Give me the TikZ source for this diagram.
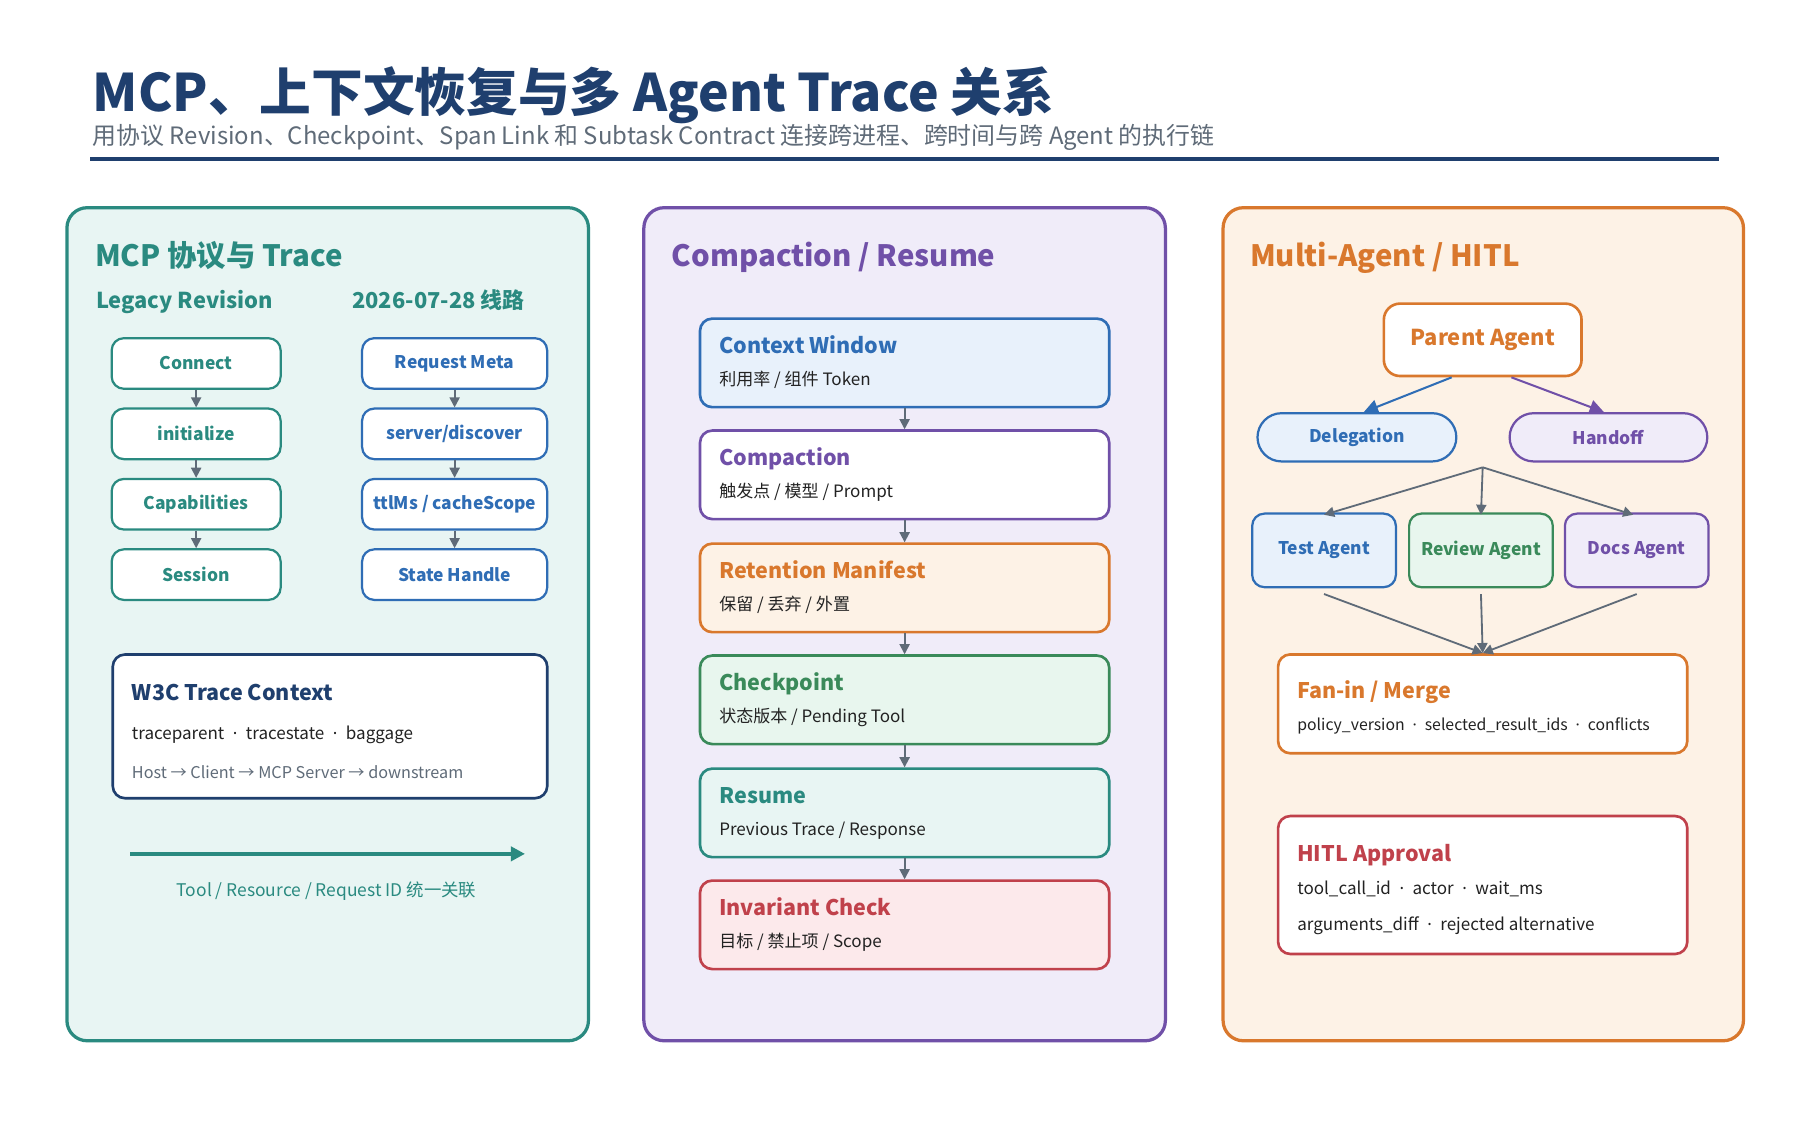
\documentclass[tikz,border=0pt]{standalone}
\usepackage{fontspec}
\setmainfont{Noto Sans CJK SC}
\newfontfamily\latin{Noto Sans}
\newcommand\md{{\latin\enspace·\enspace}}
\usetikzlibrary{arrows.meta}
\definecolor{navy}{HTML}{1F3F6E}
\definecolor{teal}{HTML}{2A8A80}
\definecolor{tealbg}{HTML}{E8F5F3}
\definecolor{blu}{HTML}{2F6DB5}
\definecolor{blubg}{HTML}{E8F1FB}
\definecolor{purp}{HTML}{7050A8}
\definecolor{purpbg}{HTML}{F0ECF9}
\definecolor{orng}{HTML}{D9782D}
\definecolor{orngbg}{HTML}{FDF2E6}
\definecolor{grn}{HTML}{3A8A5A}
\definecolor{grnbg}{HTML}{E8F6EE}
\definecolor{rd}{HTML}{C0414B}
\definecolor{rdbg}{HTML}{FCE9EB}
\definecolor{arr}{HTML}{5F6B78}
\definecolor{txt}{HTML}{222222}
\newlength\pxu
\setlength\pxu{0.567pt}
\tikzset{
  panel/.style={draw=#1,line width=1.6pt,rounded corners=10pt},
  step/.style={draw=#1,line width=1.1pt,rounded corners=6pt,fill=white,inner sep=1pt,
    minimum width=147\pxu,minimum height=44\pxu,font=\fontsize{8.6}{10}\selectfont\bfseries,text=#1},
  card/.style={draw=#1,line width=1.3pt,rounded corners=6pt,minimum width=356\pxu,minimum height=77\pxu},
  cardtitle/.style={anchor=base west,font=\fontsize{10.6}{12}\selectfont\bfseries,text=#1},
  cardtext/.style={anchor=base west,font=\fontsize{8.4}{10}\selectfont,text=txt},
  ptitle/.style={anchor=base west,font=\fontsize{14.5}{16}\selectfont\bfseries,text=#1,inner sep=0},
  flow/.style={-{Triangle[length=5pt,width=5pt]},draw=arr,line width=0.9pt},
}
\begin{document}
\begin{tikzpicture}[x=0.02cm,y=-0.02cm]
\useasboundingbox (0,0) rectangle (1560,975);
\fill[white] (0,0) rectangle (1560,975);

% title
\node[anchor=base west,font=\fontsize{25.5}{28}\selectfont\bfseries,text=navy,inner sep=0] (title) at (80,97) {MCP、上下文恢复与多 Agent Trace 关系};
\node[anchor=base west,font=\fontsize{11.8}{14}\selectfont,text=arr,inner sep=0] (subtitle) at (80,125) {用协议 Revision、Checkpoint、Span Link 和 Subtask Contract 连接跨进程、跨时间与跨 Agent 的执行链};
\draw[navy,line width=2pt] (78,138) -- (1490,138);

% panels
\filldraw[panel=teal,fill=tealbg] (58,180) rectangle (510,902);
\filldraw[panel=purp,fill=purpbg] (558,180) rectangle (1010,902);
\filldraw[panel=orng,fill=orngbg] (1060,180) rectangle (1511,902);

% left panel
\node[ptitle=teal] (ptA) at (82,231) {MCP 协议与 Trace};
\node[anchor=base west,font=\fontsize{10.8}{13}\selectfont\bfseries,text=teal,inner sep=0] (legacy) at (83,267) {Legacy Revision};
\node[anchor=base west,font=\fontsize{10.8}{13}\selectfont\bfseries,text=teal,inner sep=0] (newrev) at (305,267) {2026-07-28 线路};

\node[step=teal] (l1) at (170,315) {Connect};
\node[step=teal] (l2) at (170,376) {initialize};
\node[step=teal] (l3) at (170,437) {Capabilities};
\node[step=teal] (l4) at (170,498) {Session};
\node[step=blu,minimum width=161\pxu] (r1) at (394,315) {Request Meta};
\node[step=blu,minimum width=161\pxu] (r2) at (394,376) {server/discover};
\node[step=blu,minimum width=161\pxu] (r3) at (394,437) {ttlMs / cacheScope};
\node[step=blu,minimum width=161\pxu] (r4) at (394,498) {State Handle};
\foreach \a/\b in {l1/l2,l2/l3,l3/l4,r1/r2,r2/r3,r3/r4}
  \draw[flow] (\a.south) -- (\b.north);

\node[draw=navy,line width=1.3pt,rounded corners=6pt,fill=white,minimum width=378\pxu,minimum height=125\pxu] (w3c) at (286,629.5) {};
\node[cardtitle=navy,inner sep=0] (w3ct) at (114,607) {W3C Trace Context};
\node[cardtext,inner sep=0] (w3c1) at (114,641) {traceparent\md tracestate\md baggage};
\node[cardtext,inner sep=0,text=arr,font=\fontsize{8}{10}\selectfont] (w3c2) at (114,675) {Host → Client → MCP Server → downstream};

\coordinate (ta) at (113,740);
\coordinate (tb) at (455,740);
\draw[teal,line width=2.2pt,-{Triangle[length=7pt,width=7pt]}] (ta) -- (tb);
\node[font=\fontsize{8.6}{10}\selectfont,text=teal] (tlab) at (283,772) {Tool / Resource / Request ID 统一关联};

% middle panel
\node[ptitle=purp] (ptB) at (582,231) {Compaction / Resume};
\foreach \n/\y/\c/\f/\t/\s in {
  c1/314.5/blu/blubg/Context Window/{利用率 / 组件 Token},
  c2/411.5/purp/white/Compaction/{触发点 / 模型 / Prompt},
  c3/509.5/orng/orngbg/Retention Manifest/{保留 / 丢弃 / 外置},
  c4/606.5/grn/grnbg/Checkpoint/{状态版本 / Pending Tool},
  c5/704.5/teal/tealbg/Resume/{Previous Trace / Response},
  c6/801.5/rd/rdbg/Invariant Check/{目标 / 禁止项 / Scope}}{
  \node[card=\c,fill=\f] (\n) at (784,\y) {};
  \node[cardtitle=\c,inner sep=0] at (623,\y-8) {\t};
  \node[cardtext,inner sep=0] at (623,\y+20) {\s};
}
\foreach \a/\b in {c1/c2,c2/c3,c3/c4,c4/c5,c5/c6}
  \draw[flow] (\a.south) -- (\b.north);

% right panel
\node[ptitle=orng] (ptC) at (1083,231) {Multi-Agent / HITL};
\node[draw=orng,line width=1.3pt,rounded corners=8pt,fill=white,minimum width=172\pxu,minimum height=63\pxu,font=\fontsize{10.8}{13}\selectfont\bfseries,text=orng] (parent) at (1285,294.5) {Parent Agent};
\node[draw=blu,line width=1.1pt,rounded corners=21\pxu,fill=blubg,minimum width=173\pxu,minimum height=42\pxu,font=\fontsize{8.6}{10}\selectfont\bfseries,text=blu] (deleg) at (1176,379) {Delegation};
\node[draw=purp,line width=1.1pt,rounded corners=21\pxu,fill=purpbg,minimum width=172\pxu,minimum height=42\pxu,font=\fontsize{8.6}{10}\selectfont\bfseries,text=purp] (handoff) at (1394,379) {Handoff};
\draw[blu,line width=1pt,-{Triangle[length=7pt,width=7pt]}] ([xshift=-27\pxu]parent.south) -- ([xshift=6\pxu]deleg.north);
\draw[purp,line width=1pt,-{Triangle[length=7pt,width=7pt]}] ([xshift=25\pxu]parent.south) -- ([xshift=-4\pxu]handoff.north);

\node[draw=blu,line width=1.1pt,rounded corners=6pt,fill=blubg,inner sep=1pt,minimum width=125\pxu,minimum height=64\pxu,font=\fontsize{8.6}{10}\selectfont\bfseries,text=blu] (test) at (1147.5,477) {Test Agent};
\node[draw=grn,line width=1.1pt,rounded corners=6pt,fill=grnbg,inner sep=1pt,minimum width=125\pxu,minimum height=64\pxu,font=\fontsize{8.6}{10}\selectfont\bfseries,text=grn] (review) at (1283.5,477) {Review Agent};
\node[draw=purp,line width=1.1pt,rounded corners=6pt,fill=purpbg,inner sep=1pt,minimum width=125\pxu,minimum height=64\pxu,font=\fontsize{8.6}{10}\selectfont\bfseries,text=purp] (docs) at (1418.5,477) {Docs Agent};
\coordinate (fork) at (1285,405);
\draw[flow] (fork) -- ([yshift=-2\pxu]test.north);
\draw[flow] (fork) -- ([yshift=-2\pxu]review.north);
\draw[flow] (fork) -- ([yshift=-2\pxu,xshift=-3\pxu]docs.north);

\node[card=orng,fill=white,minimum height=86\pxu] (merge) at (1285,610) {};
\node[cardtitle=orng,inner sep=0] (merget) at (1124,605) {Fan-in / Merge};
\node[cardtext,inner sep=0,font=\fontsize{7.8}{10}\selectfont] (merge1) at (1124,633) {policy\_version\md selected\_result\_ids\md conflicts};
\foreach \s in {test,review,docs}
  \draw[flow] ([yshift=-5\pxu]\s.south) -- (merge.north);

\node[card=rd,fill=white,minimum height=120\pxu] (hitl) at (1285,767) {};
\node[cardtitle=rd,inner sep=0] (hitlt) at (1124,747) {HITL Approval};
\node[cardtext,inner sep=0] (hitl1) at (1124,775) {tool\_call\_id\md actor\md wait\_ms};
\node[cardtext,inner sep=0] (hitl2) at (1124,806) {arguments\_diff\md rejected alternative};
\end{tikzpicture}
\end{document}
